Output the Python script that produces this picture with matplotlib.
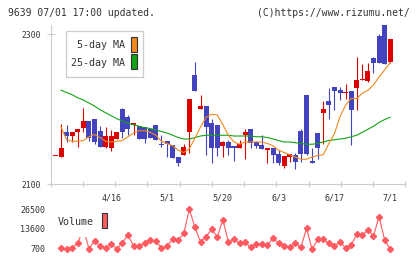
import numpy as np
import matplotlib
matplotlib.use('Agg')
import matplotlib.pyplot as plt
from matplotlib.patches import Rectangle

plt.rcParams['font.family'] = ['DejaVu Sans Mono']

# ---- data (candles: index -1 .. 59) ----
opens = [2137, 2136, 2169, 2164, 2169, 2175, 2184, 2187, 2171, 2150, 2148,
         2160, 2200, 2189, 2179, 2177, 2176, 2174, 2179, 2154, 2158,
         2152, 2136, 2139, 2169, 2245, 2200, 2204, 2181, 2179, 2151,
         2156, 2151, 2148, 2165, 2173, 2156, 2152, 2145, 2148, 2140,
         2124, 2136, 2139, 2171, 2219, 2131, 2168, 2195, 2211, 2230,
         2225, 2221, 2224, 2228, 2239, 2237, 2268, 2298, 2312, 2263]
highs = [2137, 2180, 2179, 2169, 2173, 2202, 2184, 2187, 2177, 2176, 2172,
         2169, 2201, 2192, 2181, 2177, 2176, 2174, 2179, 2165, 2158,
         2152, 2136, 2153, 2214, 2263, 2219, 2204, 2187, 2179, 2157,
         2159, 2151, 2159, 2174, 2173, 2157, 2165, 2148, 2148, 2145,
         2137, 2140, 2141, 2173, 2219, 2148, 2168, 2211, 2228, 2230,
         2230, 2233, 2224, 2270, 2260, 2262, 2270, 2300, 2312, 2294]
lows = [2137, 2136, 2156, 2156, 2149, 2169, 2158, 2154, 2150, 2148, 2144,
        2160, 2161, 2166, 2165, 2160, 2155, 2161, 2159, 2150, 2136,
        2135, 2124, 2139, 2142, 2224, 2200, 2139, 2128, 2138, 2136,
        2139, 2131, 2148, 2133, 2148, 2148, 2147, 2128, 2128, 2125,
        2121, 2129, 2120, 2129, 2139, 2128, 2133, 2153, 2187, 2199,
        2212, 2213, 2152, 2199, 2239, 2236, 2248, 2261, 2260, 2261]
closes = [2137, 2148, 2164, 2169, 2173, 2184, 2162, 2156, 2150, 2164, 2164,
          2169, 2169, 2174, 2181, 2160, 2160, 2161, 2159, 2152, 2153,
          2135, 2128, 2150, 2214, 2224, 2204, 2176, 2148, 2148, 2156,
          2148, 2148, 2153, 2170, 2155, 2151, 2147, 2148, 2139, 2128,
          2137, 2140, 2129, 2140, 2140, 2128, 2148, 2200, 2205, 2224,
          2221, 2221, 2199, 2239, 2239, 2251, 2261, 2261, 2260, 2294]

# moving averages / volume (index 0 .. 59)
ma5 = [2176, 2159, 2157, 2157, 2158, 2163, 2166, 2162, 2157, 2156,
       2157, 2158, 2163, 2168, 2171, 2171, 2169, 2165, 2157, 2154,
       2151, 2145, 2142, 2147, 2161, 2176, 2189, 2193, 2192, 2179,
       2165, 2156, 2153, 2156, 2156, 2156, 2156, 2154, 2151, 2145,
       2142, 2139, 2136, 2133, 2133, 2136, 2138, 2139, 2154, 2167,
       2190, 2205, 2214, 2214, 2221, 2225, 2232, 2243, 2252, 2262]
ma25 = [2225, 2222, 2219, 2215, 2212, 2208, 2204, 2199, 2195, 2191,
        2187, 2184, 2181, 2179, 2177, 2175, 2174, 2172, 2170, 2168,
        2165, 2162, 2160, 2160, 2162, 2164, 2165, 2165, 2165, 2165,
        2165, 2164, 2164, 2164, 2164, 2163, 2163, 2162, 2160, 2158,
        2156, 2156, 2155, 2154, 2153, 2153, 2154, 2156, 2158, 2159,
        2160, 2161, 2163, 2165, 2169, 2173, 2177, 2182, 2186, 2189]
volume = [1300, 700, 1300, 4200, 14000, 700, 5900, 2400, 1300, 3600,
          700, 4600, 9600, 2400, 2400, 4600, 6200, 5500, 1300, 2400,
          6800, 6200, 10700, 26300, 14600, 5300, 8500, 13300, 8300, 19400,
          5000, 6800, 4200, 4900, 1600, 3800, 3800, 3100, 7500, 4200,
          2400, 1600, 4200, 1600, 14000, 300, 6800, 6800, 4200, 2400,
          5300, 1000, 3100, 10100, 9400, 12900, 9000, 21500, 6400, 300]

date_labels = ['4/16', '5/1', '5/20', '6/3', '6/17', '7/1']
date_idx = [9, 19, 29, 39, 49, 59]
price_ticks = [2100, 2300]
volume_ticks = [700, 13600, 26500]

RED = '#dd0000'
BLUE = '#4343bd'
ORANGE = '#f08a1c'
GREEN = '#13a313'
VOL = '#ff5a5f'
AXC = '#cccccc'
TXT = '#333333'

W, H = 420, 259


def fx(px):
    return px / W


def fy(py):
    return 1 - py / H


fig = plt.figure(figsize=(W / 100, H / 100), dpi=100)
XLIM = (-1.85, 61.7)

# ---- price panel ----
ax = fig.add_axes([fx(50.7), fy(184), (405.3 - 50.7) / W, (184 - 25) / H])
o = np.array(opens)
c = np.array(closes)
x = np.arange(-1, len(opens) - 1)
cols = [RED if cc >= oo else BLUE for oo, cc in zip(o, c)]
ax.vlines(x, lows, highs, colors=cols, linewidth=0.8, zorder=2)
ax.bar(x, np.maximum(np.abs(c - o), 1.3), bottom=np.minimum(o, c),
       width=0.9, color=cols, linewidth=0, zorder=3)
xi = np.arange(len(ma5))
ax.plot(xi, ma25, color=GREEN, lw=0.8, zorder=4)
ax.plot(xi, ma5, color=ORANGE, lw=0.8, zorder=4)

ax.set_xlim(XLIM)
ax.set_ylim(2100, 2312)
ax.set_xticks(np.linspace(XLIM[0], XLIM[1], 12))
ax.set_xticklabels([])
ax.set_xticks(date_idx, date_labels, minor=True)
ax.tick_params(axis='x', which='major', direction='inout', length=5, color=AXC, width=0.8)
ax.tick_params(axis='x', which='minor', length=0, pad=7, labelsize=6, labelcolor=TXT)
ax.set_yticks(price_ticks)
ax.tick_params(axis='y', direction='inout', length=5.5, color=AXC, width=0.8,
               pad=4.5, labelsize=5.8, labelcolor=TXT)
for s in ['top', 'right']:
    ax.spines[s].set_visible(False)
for s in ['left', 'bottom']:
    ax.spines[s].set_color(AXC)
    ax.spines[s].set_linewidth(0.8)

# ---- volume panel ----
axv = fig.add_axes([fx(50.7), fy(252), (405.3 - 50.7) / W, 47 / H])
axv.plot(xi, volume, color=VOL, lw=0.8, marker='D', ms=3.1,
         mfc=VOL, mec=VOL, zorder=2)
axv.set_xlim(XLIM)
axv.set_ylim(-1445, 29100)
axv.set_xticks([])
axv.set_yticks(volume_ticks)
axv.tick_params(axis='y', length=0, pad=4, labelsize=6, labelcolor=TXT)
for s in axv.spines.values():
    s.set_visible(False)
axv.patch.set_alpha(0)

# ---- legends ----
fig.add_artist(Rectangle((fx(65.7), fy(77.3)), (143.3 - 65.7) / W, (77.3 - 30.7) / H,
                         transform=fig.transFigure, fc='white', ec=AXC, lw=0.9, zorder=10))
fig.text(fx(125), fy(45.5), '5-day MA', ha='right', va='center', fontsize=7.2,
         color=TXT, zorder=11)
fig.text(fx(125), fy(63), '25-day MA', ha='right', va='center', fontsize=7.2,
         color=TXT, zorder=11)
fig.add_artist(Rectangle((fx(131.3), fy(52.3)), 6 / W, 15 / H, transform=fig.transFigure,
                         fc=ORANGE, ec=TXT, lw=0.8, zorder=11))
fig.add_artist(Rectangle((fx(131.3), fy(69.3)), 6 / W, 15 / H, transform=fig.transFigure,
                         fc=GREEN, ec=TXT, lw=0.8, zorder=11))

fig.add_artist(Rectangle((fx(55), fy(237)), 56 / W, 30 / H, transform=fig.transFigure,
                         fc='white', ec='none', zorder=10))
fig.text(fx(58), fy(222.3), 'Volume', ha='left', va='center', fontsize=7.2,
         color=TXT, zorder=11)
fig.add_artist(Rectangle((fx(101.7), fy(228.3)), 5.6 / W, 15 / H, transform=fig.transFigure,
                         fc=VOL, ec=TXT, lw=0.8, zorder=11))

# ---- header ----
fig.text(fx(8), fy(12.7), '9639 07/01 17:00 updated.', ha='left', va='center',
         fontsize=7.0, color=TXT)
fig.text(fx(410), fy(12.7), '(C)https://www.rizumu.net/', ha='right', va='center',
         fontsize=7.0, color=TXT)

fig.savefig('out.png', dpi=100)
